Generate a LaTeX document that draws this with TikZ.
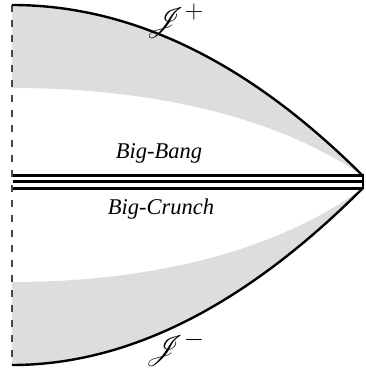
\documentclass[tikz,border=0pt]{standalone}
\usepackage{graphicx}
\usepackage{fontspec}
\setmainfont{Liberation Serif}
\usepackage{mathrsfs}
\definecolor{fillgray}{RGB}{220,221,223}
\definecolor{dashgray}{RGB}{70,70,70}
\begin{document}
\begin{tikzpicture}[x=1pt,y=-1pt,
  curve/.style={line width=2.4pt, black},
  bar/.style={line width=3pt, black},
  region/.style={fill=fillgray, draw=none},
  axisline/.style={dashgray, line width=1.2pt, dash pattern=on 7pt off 8pt},
  lbl/.style={font=\fontsize{22.5}{26}\selectfont\itshape, anchor=base},
  scri/.style={font=\fontsize{24.88}{28}\selectfont, inner sep=0pt}]
\useasboundingbox (0,0) rectangle (365,369);
% key points
\coordinate (TL) at (12,5);
\coordinate (TI) at (12,88);
\coordinate (TT) at (363,176);
\coordinate (BL) at (12,365);
\coordinate (BI) at (12,282);
\coordinate (BT) at (363,188);
\coordinate (L1) at (13,175);
\coordinate (R1) at (363,175);
\coordinate (L2) at (13,181.5);
\coordinate (R2) at (363,181.5);
\coordinate (L3) at (13,188);
\coordinate (R3) at (363,188);
\coordinate (CapT) at (363,174);
\coordinate (CapB) at (363,189);
% gray regions
\fill[region] (TL) .. controls (132,5) and (249,62) .. (TT)
  .. controls (270,112) and (140,88) .. (TI) -- cycle;
\fill[region] (BL) .. controls (128,365) and (245,306) .. (BT)
  .. controls (270,256) and (140,282) .. (BI) -- cycle;
% left dashed boundary
\draw[axisline] (TL) -- (BL);
% null infinities
\draw[curve] (TL) .. controls (132,5) and (249,62) .. (TT);
\draw[curve] (BL) .. controls (128,365) and (245,306) .. (BT);
% singular lines
\draw[bar] (L1) -- (R1);
\draw[bar] (L2) -- (R2);
\draw[bar] (L3) -- (R3);
\draw[line width=1.8pt] (CapT) -- (CapB);
% labels
\node[scri] (scrip) at (175,21) {\scalebox{1.25}{$\mathscr{J}^{+}$}};
\node[scri] (scrim) at (175,349) {\scalebox{1.25}{$\mathscr{J}^{-}$}};
\node[lbl] (bang) at (159,158) {Big-Bang};
\node[lbl] (crunch) at (161,214) {Big-Crunch};
\end{tikzpicture}
\end{document}
